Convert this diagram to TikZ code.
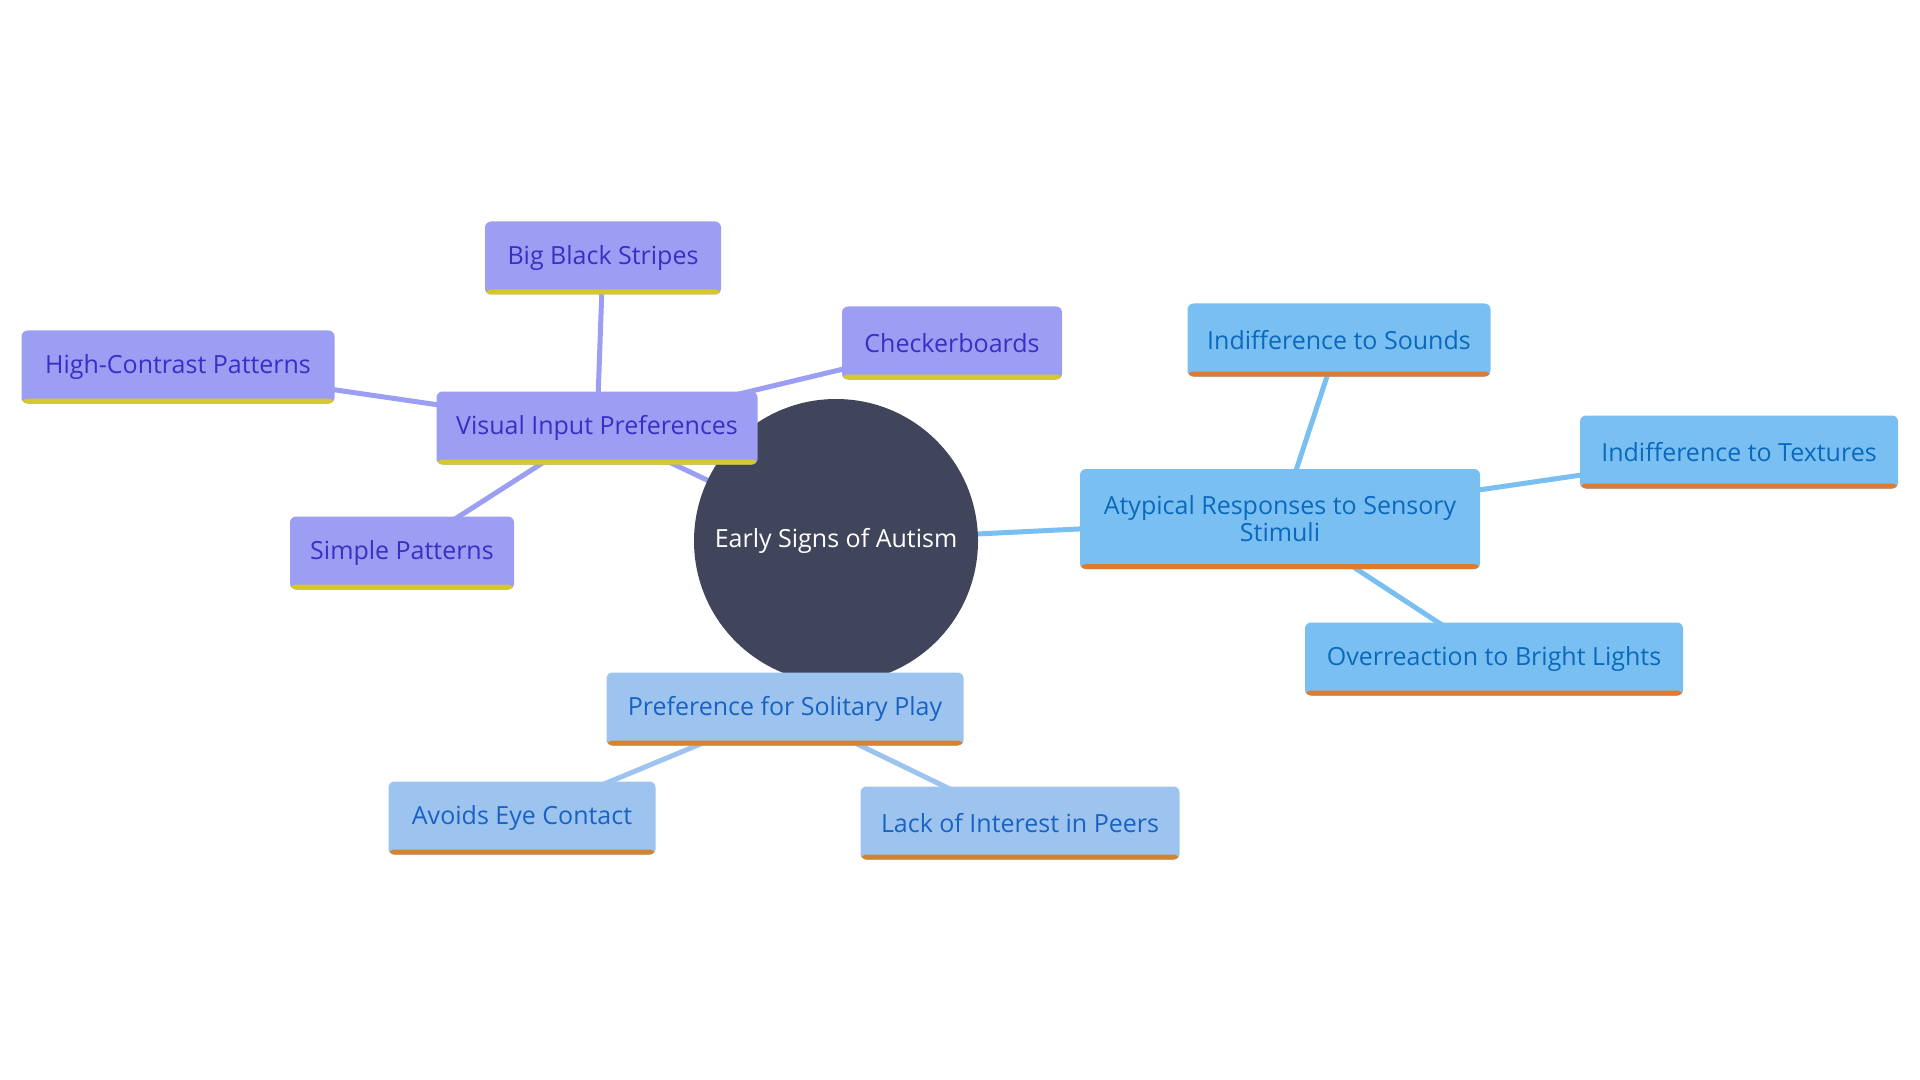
\documentclass[tikz,border=0pt]{standalone}
\usepackage{fontspec}
\setmainfont{Open Sans}
\usetikzlibrary{backgrounds}

\definecolor{rootfill}{HTML}{41455C}
\definecolor{visfill}{HTML}{9B9EF2}
\definecolor{vistext}{HTML}{3A2FC4}
\definecolor{visbar}{HTML}{D4C928}
\definecolor{sensfill}{HTML}{7ABFF1}
\definecolor{senstext}{HTML}{0B69BD}
\definecolor{sensbar}{HTML}{E07B2E}
\definecolor{socfill}{HTML}{9CC4EF}
\definecolor{soctext}{HTML}{1A62C2}
\definecolor{socbar}{HTML}{D4842C}

\tikzset{
  box/.style 2 args={rectangle, rounded corners=3pt, fill=#1, minimum height=36.5pt,
    font=\fontsize{12.5}{13.5}\selectfont, align=center,
    path picture={\fill[#2] ([yshift=2.5pt]path picture bounding box.south west)
      rectangle (path picture bounding box.south east);}},
  vis/.style={box={visfill}{visbar}, text=vistext},
  sens/.style={box={sensfill}{sensbar}, text=senstext},
  soc/.style={box={socfill}{socbar}, text=soctext},
  rootnode/.style={circle, fill=rootfill, text=white, minimum size=142pt,
    font=\fontsize{12.5}{13.5}\selectfont},
  vline/.style={draw=visfill, line width=2.5pt},
  sline/.style={draw=sensfill, line width=2.5pt},
  oline/.style={draw=socfill, line width=2.5pt}
}

\begin{document}
\begin{tikzpicture}[x=0.5pt, y=-0.5pt]
			\useasboundingbox (0,0) rectangle (1920,1080);

			\node (root) [rootnode] at (836,541) {Early Signs of Autism};

			\node (vip) [vis, minimum width=160.5pt] at (597,428) {Visual Input Preferences};
			\node (bbs) [vis, minimum width=118pt] at (603,258) {Big Black Stripes};
			\node (hcp) [vis, minimum width=156.5pt] at (178,367) {High-Contrast Patterns};
			\node (chk) [vis, minimum width=110pt] at (952,343) {Checkerboards};
			\node (smp) [vis, minimum width=112pt] at (402,553) {Simple Patterns};

			\node (ars) [sens, minimum width=200pt, minimum height=50pt] at (1280,519) {Atypical Responses to Sensory\\Stimuli};
			\node (ids) [sens, minimum width=151.5pt] at (1339,340) {Indifference to Sounds};
			\node (idt) [sens, minimum width=159pt] at (1739,452) {Indifference to Textures};
			\node (ovr) [sens, minimum width=189pt] at (1494,659) {Overreaction to Bright Lights};

			\node (sol) [soc, minimum width=178.5pt] at (785,709) {Preference for Solitary Play};
			\node (eye) [soc, minimum width=133.5pt] at (522,818) {Avoids Eye Contact};
			\node (lack) [soc, minimum width=159.5pt] at (1020,823) {Lack of Interest in Peers};

			\begin{scope}[on background layer]
			\path (root.center) edge [vline] (vip.center);
			\path (vip.center) edge [vline] (bbs.center);
			\path (vip.center) edge [vline] (hcp.center);
			\path (vip.center) edge [vline] (chk.center);
			\path (vip.center) edge [vline] (smp.center);
			\path (root.center) edge [sline] (ars.center);
			\path (ars.center) edge [sline] (ids.center);
			\path (ars.center) edge [sline] (idt.center);
			\path (ars.center) edge [sline] (ovr.center);
			\path (root.center) edge [oline] (sol.center);
			\path (sol.center) edge [oline] (eye.center);
			\path (sol.center) edge [oline] (lack.center);
			\end{scope}
\end{tikzpicture}
\end{document}
